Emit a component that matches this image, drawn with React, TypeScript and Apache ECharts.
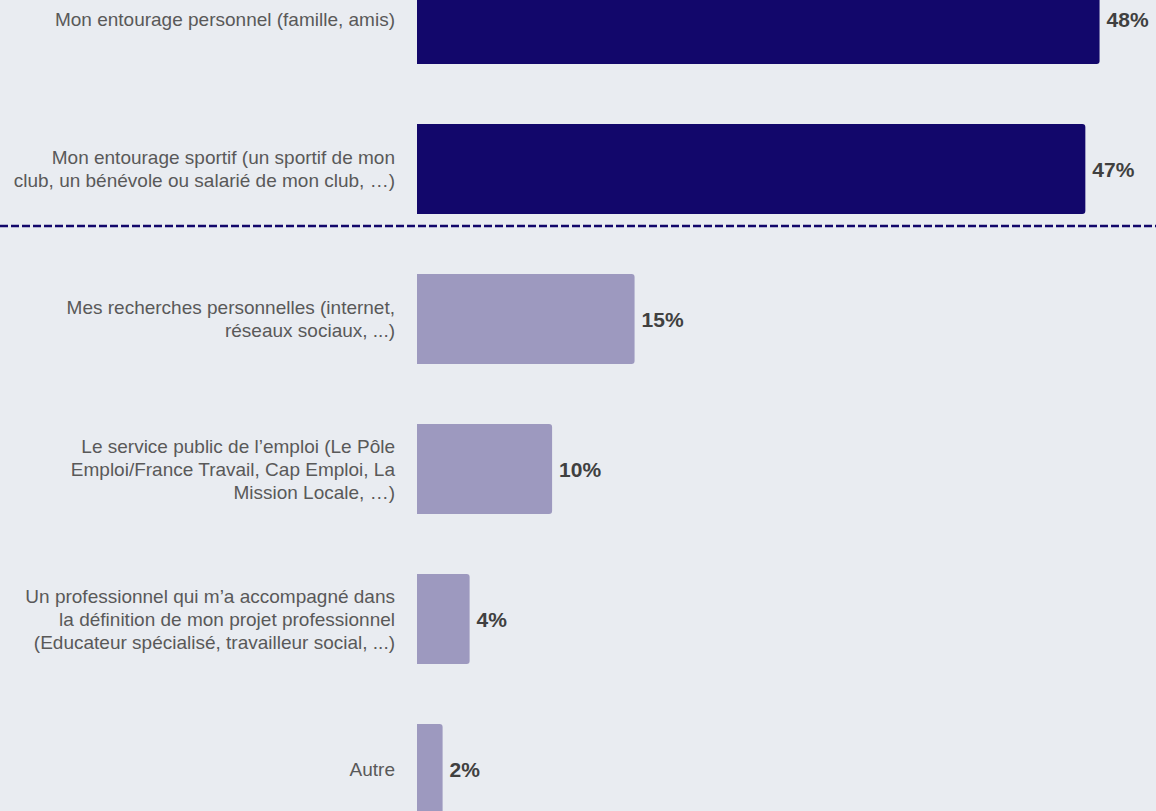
import React, { useEffect, useRef } from "react";
import * as echarts from "echarts";

const categories = [
  "Mon entourage personnel (famille, amis)",
  "Mon entourage sportif (un sportif de mon\nclub, un bénévole ou salarié de mon club, …)",
  "Mes recherches personnelles (internet,\nréseaux sociaux, ...)",
  "Le service public de l’emploi (Le Pôle\nEmploi/France Travail, Cap Emploi, La\nMission Locale, …)",
  "Un professionnel qui m’a accompagné dans\nla définition de mon projet professionnel\n(Educateur spécialisé, travailleur social, ...)",
  "Autre",
];
const values = [48, 47, 15.3, 9.5, 3.7, 1.8];
const labels = ["48%", "47%", "15%", "10%", "4%", "2%"];
const highlighted = [true, true, false, false, false, false];

const SHIFT = 56;

export default function App() {
  const ref = useRef<HTMLDivElement>(null);
  useEffect(() => {
    document.body.style.margin = "0";
    const chart = echarts.init(ref.current!, null, { renderer: "svg" });
    chart.setOption({
      animation: false,
      backgroundColor: "#e9ecf1",
      grid: { left: 417, right: 28, top: 0, height: 900, containLabel: false },
      xAxis: { type: "value", min: 0, max: 50, show: false },
      yAxis: {
        type: "category",
        inverse: true,
        data: categories,
        axisLine: { show: false },
        axisTick: { show: false },
        axisLabel: {
          margin: 22,
          fontFamily: "Liberation Sans, Arial, sans-serif",
          fontSize: 19,
          lineHeight: 23,
          color: "#595959",
          align: "right",
        },
      },
      series: [
        {
          type: "bar",
          barCategoryGap: "40%",
          data: values.map((v, i) => ({
            value: v,
            itemStyle: { color: highlighted[i] ? "#12076b" : "#9d99bf" },
          })),
          itemStyle: { borderRadius: [0, 3, 3, 0] },
          label: {
            show: true,
            position: "right",
            distance: 7,
            formatter: (p: any) => labels[p.dataIndex],
            fontFamily: "Liberation Sans, Arial, sans-serif",
            fontSize: 21,
            fontWeight: "bold",
            color: "#404040",
          },
        },
      ],
      graphic: [
        {
          type: "line",
          shape: { x1: 0, y1: 226 + SHIFT, x2: 1156, y2: 226 + SHIFT },
          style: { stroke: "#12076b", lineWidth: 2.5, lineDash: [8, 3] },
        },
      ],
    });
    return () => chart.dispose();
  }, []);
  return (
    <div style={{ width: 1156, height: 811, overflow: "hidden", position: "relative" }}>
      <div
        ref={ref}
        style={{ position: "absolute", left: 0, top: -SHIFT, width: 1156, height: 900 }}
      />
    </div>
  );
}
